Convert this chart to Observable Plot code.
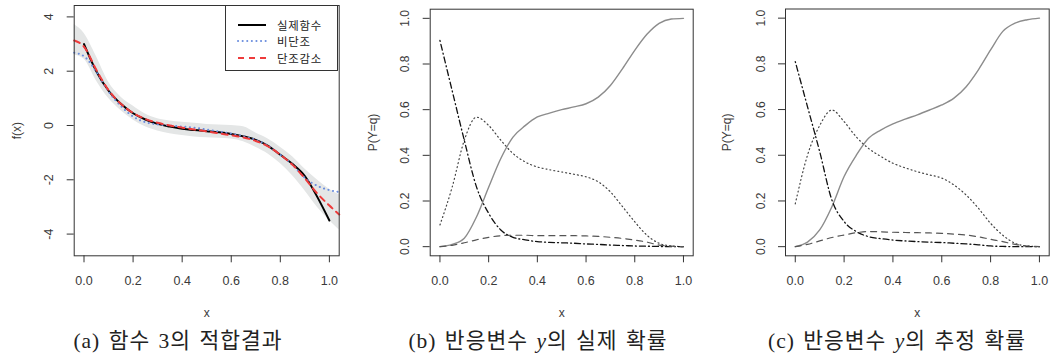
<!DOCTYPE html>
<html><head><meta charset="utf-8">
<script src="https://cdn.jsdelivr.net/npm/d3@7"></script>
<script src="https://cdn.jsdelivr.net/npm/@observablehq/plot@0.6"></script>
<style>
body{margin:0;background:#fff;}
#wrap{position:relative;width:1052px;height:363px;overflow:hidden;background:#fff;}
.panel{position:absolute;top:0;}
.cap{position:absolute;top:329px;height:24px;line-height:24px;font-family:"Liberation Serif","Noto Sans CJK KR",serif;font-size:21.5px;letter-spacing:1px;word-spacing:2px;color:#222;white-space:nowrap;transform:translateX(-50%);}
.cap i{font-family:"Liberation Serif",serif;}
#legend{position:absolute;left:225px;top:5px;width:113px;height:66px;border:1px solid #333;background:#fff;font-family:"Noto Sans CJK KR",sans-serif;font-size:11.4px;color:#222;box-sizing:border-box;}
.row{position:absolute;left:0;height:14px;width:111px;}
.row svg{position:absolute;left:11px;top:0;}
.row span{position:absolute;display:block;left:51px;top:0;height:14px;line-height:14px;letter-spacing:0.8px;}
</style></head><body><div id="wrap"></div>
<script>
// ---------- data ----------
const xDomain = [-0.04, 1.04];
const xTicks = [0, 0.2, 0.4, 0.6, 0.8, 1.0];

// panel (a): fitted function
const aGridX = [-0.04,0,0.05,0.1,0.15,0.2,0.25,0.3,0.35,0.4,0.45,0.5,0.55,0.6,0.65,0.7,0.75,0.8,0.85,0.9,0.95,1.0,1.04];
const aBandHi = [3.72,3.4,2.55,1.6,1.05,0.72,0.42,0.25,0.17,0.12,0.08,0.04,0.02,0.0,-0.05,-0.28,-0.5,-0.8,-1.15,-1.6,-2.0,-2.35,-2.55];
const aBandLo = [2.6,2.45,1.65,1.0,0.55,0.2,-0.05,-0.2,-0.3,-0.37,-0.42,-0.45,-0.47,-0.5,-0.6,-0.8,-1.05,-1.4,-1.85,-2.4,-3.0,-3.5,-3.85];
const aNonMono = [2.68,2.55,1.98,1.25,0.72,0.33,0.12,0.04,0.0,-0.04,-0.08,-0.15,-0.22,-0.3,-0.4,-0.53,-0.75,-1.08,-1.45,-1.93,-2.22,-2.38,-2.45];
const aMonoDec = [3.13,2.9,2.05,1.3,0.8,0.46,0.24,0.1,0.0,-0.08,-0.15,-0.22,-0.29,-0.36,-0.44,-0.57,-0.77,-1.08,-1.45,-1.95,-2.5,-2.95,-3.28];
const aTrueX = [0,0.05,0.1,0.15,0.2,0.25,0.3,0.35,0.4,0.45,0.5,0.55,0.6,0.65,0.7,0.75,0.8,0.85,0.9,0.95,1.0];
const aTrue = [3.0,2.0,1.28,0.8,0.45,0.22,0.06,-0.04,-0.12,-0.17,-0.21,-0.25,-0.31,-0.4,-0.53,-0.75,-1.08,-1.42,-1.86,-2.62,-3.5];
const aYTicks = [-4,-2,0,2,4];
const legendLabels = ["실제함수","비단조","단조감소"];

// panels (b),(c): probabilities
const pX = [0,0.05,0.1,0.15,0.2,0.25,0.3,0.35,0.4,0.45,0.5,0.55,0.6,0.65,0.7,0.75,0.8,0.85,0.9,0.95,1.0];
const bSolid = [0,0.01,0.037,0.13,0.26,0.386,0.48,0.53,0.568,0.585,0.6,0.612,0.626,0.655,0.706,0.78,0.86,0.93,0.978,0.997,1.0];
const bDot = [0.095,0.26,0.466,0.567,0.531,0.466,0.408,0.371,0.349,0.337,0.327,0.317,0.306,0.284,0.24,0.175,0.109,0.05,0.015,0.003,0.0];
const bDashDot = [0.903,0.684,0.466,0.262,0.146,0.073,0.041,0.03,0.022,0.019,0.017,0.015,0.012,0.01,0.007,0.005,0.003,0.002,0.001,0.0,0.0];
const bDash = [0,0.006,0.017,0.03,0.041,0.048,0.05,0.05,0.048,0.048,0.048,0.048,0.047,0.045,0.041,0.036,0.029,0.02,0.007,0.002,0.0];
const cSolid = [0,0.02,0.073,0.175,0.307,0.4,0.474,0.51,0.537,0.558,0.577,0.598,0.62,0.65,0.7,0.774,0.861,0.942,0.978,0.993,1.0];
const cDot = [0.187,0.4,0.53,0.598,0.547,0.48,0.43,0.395,0.365,0.345,0.328,0.314,0.3,0.27,0.226,0.168,0.102,0.05,0.015,0.003,0.0];
const cDashDot = [0.81,0.613,0.416,0.204,0.11,0.066,0.044,0.035,0.029,0.025,0.022,0.02,0.018,0.015,0.012,0.008,0.003,0.001,0.0,0.0,0.0];
const cDash = [0,0.01,0.025,0.04,0.051,0.061,0.066,0.065,0.063,0.062,0.061,0.06,0.058,0.055,0.051,0.043,0.032,0.022,0.01,0.003,0.0];
const pYTicks = [0,0.2,0.4,0.6,0.8,1.0];

const captions = [
  {x:178, html:"(a) 함수 3의 적합결과"},
  {x:538, html:"(b) 반응변수 <i>y</i>의 실제 확률"},
  {x:897, html:"(c) 반응변수 <i>y</i>의 추정 확률"}
];

// ---------- build ----------
const wrap = document.getElementById("wrap");
const H = 322, BOTTOM = 255.3;
const f1 = d3.format(".1f");
const cv = "monotone-x";
const tickColor = "#3a3a3a";

function panel({left, width, mt, ml, mr, yDomain, yTicks, yFmt, yLabel, yLabelDx, tickDx, tickFont, marks}) {
  const svg = Plot.plot({
    width, height: H,
    marginTop: mt, marginLeft: ml, marginRight: mr, marginBottom: H - BOTTOM,
    style: {fontFamily: "'Liberation Sans', Arial, sans-serif", fontSize: "12px", color: "#333", background: "transparent", overflow: "visible"},
    x: {domain: xDomain, axis: null},
    y: {domain: yDomain, axis: null},
    marks: [
      ...marks,
      Plot.frame({stroke: "#333", strokeWidth: 1}),
      Plot.axisX({ticks: xTicks, tickSize: 7, tickFormat: () => "", label: null, stroke: "#333"}),
      Plot.axisY({ticks: yTicks, tickSize: 7, tickFormat: () => "", label: null, stroke: "#333"}),
      Plot.text(xTicks, {x: d => d, text: f1, frameAnchor: "bottom", dy: 25, lineAnchor: "middle", fontSize: 12.5, fill: tickColor}),
      Plot.text(yTicks, {y: d => d, text: yFmt, frameAnchor: "left", dx: tickDx, rotate: -90, textAnchor: "middle", lineAnchor: "middle", fontSize: tickFont, fill: tickColor}),
      Plot.text(["x"], {text: d => d, frameAnchor: "bottom", dy: 57, lineAnchor: "middle", fontSize: 12, fill: tickColor}),
      Plot.text([yLabel], {text: d => d, frameAnchor: "left", dx: yLabelDx, rotate: -90, textAnchor: "middle", lineAnchor: "middle", fontSize: 12, fill: tickColor})
    ]
  });
  svg.classList.add("panel");
  svg.style.left = left + "px";
  wrap.appendChild(svg);
}

const rowsA = aGridX.map((x, i) => ({x, lo: aBandLo[i], hi: aBandHi[i], nm: aNonMono[i], md: aMonoDec[i]}));
const rowsT = aTrueX.map((x, i) => ({x, y: aTrue[i]}));

panel({
  left: 0, width: 350, mt: 5, ml: 73.7, mr: 11.3,
  yDomain: [-4.8, 4.42], yTicks: aYTicks, yFmt: d => String(d), yLabel: "f(x)", yLabelDx: -57, tickDx: -25.4, tickFont: 12.5,
  marks: [
    Plot.areaY(rowsA, {x: "x", y1: "lo", y2: "hi", fill: "#e4e6e6", curve: cv}),
    Plot.lineY(rowsT, {x: "x", y: "y", stroke: "#000", strokeWidth: 2, curve: cv}),
    Plot.lineY(rowsA, {x: "x", y: "nm", stroke: "#6b8ede", strokeWidth: 2, strokeDasharray: "0.1,4.5", strokeLinecap: "round", curve: cv}),
    Plot.lineY(rowsA, {x: "x", y: "md", stroke: "#ee3b3b", strokeWidth: 2, strokeDasharray: "6,5", curve: cv})
  ]
});

function probRows(s, d, dd, da) { return pX.map((x, i) => ({x, s: s[i], d: d[i], dd: dd[i], da: da[i]})); }
function probMarks(rows) {
  return [
    Plot.lineY(rows, {x: "x", y: "s", stroke: "#8c8c8c", strokeWidth: 1.4, curve: cv}),
    Plot.lineY(rows, {x: "x", y: "d", stroke: "#444", strokeWidth: 1.2, strokeDasharray: "1,3", curve: cv}),
    Plot.lineY(rows, {x: "x", y: "dd", stroke: "#111", strokeWidth: 1.3, strokeDasharray: "1,3,6,3", curve: cv}),
    Plot.lineY(rows, {x: "x", y: "da", stroke: "#555", strokeWidth: 1.2, strokeDasharray: "6,5", curve: cv})
  ];
}

panel({
  left: 350, width: 352, mt: 8.7, ml: 79.7, mr: 9.3,
  yDomain: [-0.04, 1.04], yTicks: pYTicks, yFmt: f1, yLabel: "P(Y=q)", yLabelDx: -57, tickDx: -24.7, tickFont: 12,
  marks: probMarks(probRows(bSolid, bDot, bDashDot, bDash))
});
panel({
  left: 702, width: 350, mt: 8.5, ml: 83, mr: 3.3,
  yDomain: [-0.04, 1.04], yTicks: pYTicks, yFmt: f1, yLabel: "P(Y=q)", yLabelDx: -58, tickDx: -24.7, tickFont: 12,
  marks: probMarks(probRows(cSolid, cDot, cDashDot, cDash))
});

// legend for panel (a)
const leg = document.createElement("div");
leg.id = "legend";
const styles = [
  {stroke: "#000", dash: "", w: 2},
  {stroke: "#6b8ede", dash: "0.1,4.5", w: 2, cap: "round"},
  {stroke: "#ee3b3b", dash: "6,5", w: 2}
];
legendLabels.forEach((lab, i) => {
  const r = document.createElement("div");
  r.className = "row";
  r.style.top = (11.5 + i * 16.8) + "px";
  const st = styles[i];
  r.innerHTML = `<svg width="30" height="14"><line x1="1" x2="29" y1="7" y2="7" stroke="${st.stroke}" stroke-width="${st.w}" stroke-dasharray="${st.dash}" stroke-linecap="${st.cap || "butt"}"/></svg><span>${lab}</span>`;
  leg.appendChild(r);
});
wrap.appendChild(leg);

captions.forEach(c => {
  const d = document.createElement("div");
  d.className = "cap";
  d.style.left = c.x + "px";
  d.innerHTML = c.html;
  wrap.appendChild(d);
});
</script></body></html>
